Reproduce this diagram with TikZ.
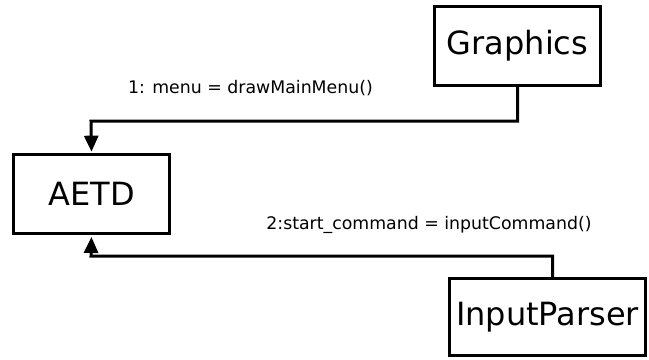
\documentclass[tikz,border=0pt]{standalone}
\usepackage{fontspec}
\setmainfont{DejaVu Sans}
\usetikzlibrary{arrows.meta,positioning}

\begin{document}
\begin{tikzpicture}[x=0.75pt, y=0.75pt,
    obj/.style={rectangle, draw, line width=2.25pt, font=\fontsize{24}{28}\selectfont},
    msg/.style={line width=2.25pt, -{Triangle[width=10.5pt, length=12pt]}},
    msglabel/.style={font=\fontsize{13}{15}\selectfont}]
    \useasboundingbox (0,0) rectangle (649,-360);

    \node (graphics) at (517.5,-46) [obj, minimum width=124.5pt, minimum height=59.25pt] {Graphics};
    \node (aetd) at (91.5,-194) [obj, minimum width=117pt, minimum height=59.25pt] {AETD};
    \node (parser) at (547.5,-317) [obj, minimum width=147pt, minimum height=57.75pt] {InputParser};

    \node (call1) at (250.5,-88) [msglabel] {1: menu = drawMainMenu()};
    \node (call2) at (429,-225) [msglabel] {2:start\_command = inputCommand()};

    \coordinate (bend1) at (91,-121);
    \coordinate (bend2) at (91,-256);

    \draw [msg] (graphics.south) |- (bend1) -- ([yshift=1pt]aetd.north);
    \draw [msg] ([xshift=3.75pt]parser.north) |- (bend2) -- ([yshift=-1.5pt]aetd.south);
\end{tikzpicture}
\end{document}
